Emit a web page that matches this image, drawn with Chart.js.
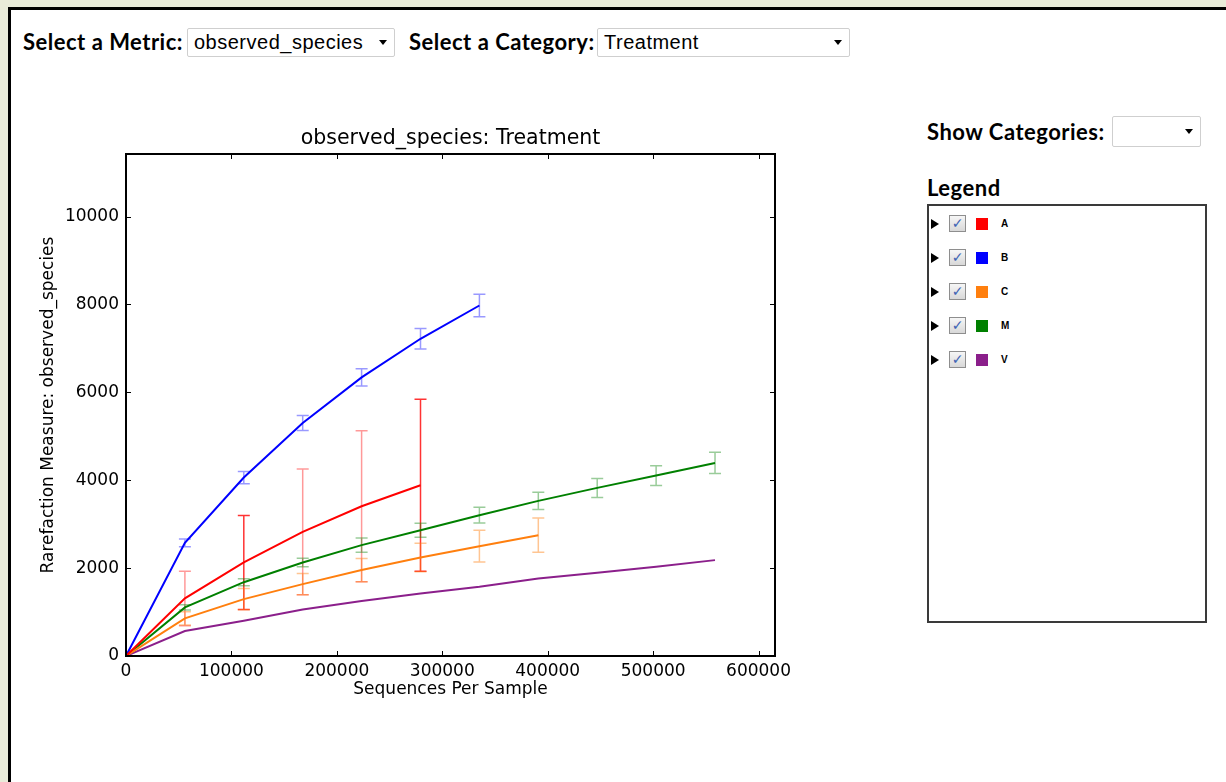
<!DOCTYPE html>
<html>
<head>
<meta charset="utf-8">
<script src="https://cdn.jsdelivr.net/npm/chart.js@4.4.1/dist/chart.umd.min.js"></script>
<style>
  html, body { margin: 0; padding: 0; }
  body { width: 1226px; height: 782px; background: #e9ebd9; position: relative; overflow: hidden; }
  #panel { position: absolute; left: 8px; top: 7px; width: 1300px; height: 900px; border-left: 3px solid #000; border-top: 3px solid #000; background: #fff; }
  .lbl { position: absolute; font-family: Lato, "Open Sans", sans-serif; font-weight: 700; color: #000; white-space: nowrap; letter-spacing: 0.5px; }
  .sel { position: absolute; box-sizing: border-box; border: 1px solid #cfcfcf; border-radius: 2px; background: #fff;
         font-family: "Liberation Sans", Arial, sans-serif; color: #000; white-space: nowrap; padding-left: 6px; }
  .arrow { position: absolute; width: 0; height: 0; border-left: 4px solid transparent; border-right: 4px solid transparent; border-top: 5px solid #000; }
  #legendBox { position: absolute; left: 927px; top: 204px; width: 280px; height: 419px; box-sizing: border-box; border: 2px solid #3a3a3a; background: #fff; }
  .row { position: absolute; left: 0; height: 20px; }
  .tri { position: absolute; left: 2px; top: 5px; width: 0; height: 0; border-top: 5px solid transparent; border-bottom: 5px solid transparent; border-left: 8px solid #000; }
  .cb { position: absolute; left: 20px; top: 1px; width: 17px; height: 17px; box-sizing: border-box; border: 1px solid #8e8e8e;
        background: linear-gradient(#f6f6f6, #d8d8d8); font-family: "DejaVu Sans", sans-serif; font-weight: 700; font-size: 14px; line-height: 15px; text-align: center; color: #3f63b4; }
  .sw { position: absolute; left: 47px; top: 4px; width: 12px; height: 12px; }
  .nm { position: absolute; left: 72px; top: 4px; font-family: "Liberation Sans", Arial, sans-serif; font-weight: 700; font-size: 10px; line-height: 12px; }
  #chartCanvas { position: absolute; left: 20px; top: 110px; }
</style>
</head>
<body>
<div id="panel"></div>

<div class="lbl" style="left:23px; top:29px; font-size:22px; line-height:26px;">Select a Metric:</div>
<div class="sel" style="left:187px; top:28px; width:208px; height:29px; font-size:20px; line-height:27px; letter-spacing:0.5px;">observed_species</div>
<div class="arrow" style="left:379px; top:40px;"></div>

<div class="lbl" style="left:409px; top:29px; font-size:22px; line-height:26px;">Select a Category:</div>
<div class="sel" style="left:597px; top:28px; width:253px; height:29px; font-size:20px; line-height:27px; letter-spacing:0.5px;">Treatment</div>
<div class="arrow" style="left:834px; top:40px;"></div>

<div class="lbl" style="left:927px; top:119px; font-size:22px; line-height:26px;">Show Categories:</div>
<div class="sel" style="left:1112px; top:116px; width:89px; height:31px;"></div>
<div class="arrow" style="left:1185px; top:129px;"></div>

<div class="lbl" style="left:927px; top:175px; font-size:22px; line-height:26px;">Legend</div>
<div id="legendBox"></div>

<canvas id="chartCanvas" width="780" height="600"></canvas>

<script>
// ---- data ----
const chartTitle = 'observed_species: Treatment';
const depths = [0, 55870, 111740, 167610, 223480, 279350, 335220, 391090, 446960, 502830, 558700];
const categories = ['A', 'B', 'C', 'M', 'V'];
const colors = ['#ff0000', '#0000ff', '#ff7f0e', '#008000', '#8b1f8b'];
const errColors = ['rgba(255,0,0,0.4)', 'rgba(0,0,255,0.4)', 'rgba(255,127,14,0.45)', 'rgba(0,128,0,0.4)', 'rgba(139,31,139,0.4)'];
const errStrongColors = ['rgba(255,0,0,0.8)', null, null, null, null];

const seriesA = [0, 1311, 2129, 2826, 3409, 3886];
const seriesB = [0, 2575, 4061, 5303, 6340, 7220, 7977];
const seriesC = [0, 856, 1295, 1636, 1955, 2242, 2500, 2750];
const seriesM = [0, 1106, 1680, 2129, 2523, 2864, 3205, 3530, 3826, 4106, 4394];
const seriesV = [0, 568, 803, 1060, 1250, 1424, 1576, 1765, 1894, 2030, 2182];

const errA = [0, 620, 1070, 1430, 1720, 1960];
const errB = [0, 90, 140, 170, 195, 235, 255];
const errC = [0, 150, 240, 240, 265, 322, 360, 390];
const errM = [0, 60, 80, 95, 160, 160, 178, 197, 216, 223, 242];
const errV = null;
// error bars that look darker (overlapping) in the reference
const strongA = [false, false, true, false, false, true];

const xTicks = [0, 100000, 200000, 300000, 400000, 500000, 600000];
const yTicks = [0, 2000, 4000, 6000, 8000, 10000];
const xMax = 615600, yMax = 11425;

const allSeries = [seriesA, seriesB, seriesC, seriesM, seriesV];
const allErr = [errA, errB, errC, errM, errV];
const allStrong = [strongA, null, null, null, null];

// ---- HTML legend ----
const box = document.getElementById('legendBox');
categories.forEach((c, i) => {
  const r = document.createElement('div');
  r.className = 'row';
  r.style.top = (8 + i * 34) + 'px';
  r.innerHTML = '<div class="tri"></div><div class="cb">\u2713</div><div class="sw" style="background:' + colors[i] + '"></div><div class="nm">' + c + '</div>';
  box.appendChild(r);
});

// ---- plugins ----
const errorBars = {
  id: 'errorBars',
  beforeDatasetsDraw(chart) {
    const { ctx } = chart, x = chart.scales.x, y = chart.scales.y;
    chart.data.datasets.forEach((ds) => {
      if (!ds.errors) return;
      ctx.save();
      ctx.lineWidth = 1.5;
      ds.data.forEach((pt, j) => {
        const e = ds.errors[j];
        if (!e) return;
        ctx.strokeStyle = (ds.errorStrong && ds.errorStrong[j]) ? ds.errorStrongColor : ds.errorColor;
        const px = x.getPixelForValue(pt.x);
        const top = y.getPixelForValue(pt.y + e);
        const bot = y.getPixelForValue(pt.y - e);
        ctx.beginPath();
        ctx.moveTo(px, top); ctx.lineTo(px, bot);
        ctx.moveTo(px - 6, top); ctx.lineTo(px + 6, top);
        ctx.moveTo(px - 6, bot); ctx.lineTo(px + 6, bot);
        ctx.stroke();
      });
      ctx.restore();
    });
  }
};

const frame = {
  id: 'frame',
  afterDatasetsDraw(chart) {
    const { ctx, chartArea: a } = chart, x = chart.scales.x, y = chart.scales.y;
    ctx.save();
    ctx.strokeStyle = '#000';
    ctx.lineWidth = 1;
    ctx.beginPath();
    x.ticks.forEach(t => {
      const px = Math.round(x.getPixelForValue(t.value)) + 0.5;
      ctx.moveTo(px, a.bottom); ctx.lineTo(px, a.bottom - 5);
      ctx.moveTo(px, a.top); ctx.lineTo(px, a.top + 5);
    });
    y.ticks.forEach(t => {
      const py = Math.round(y.getPixelForValue(t.value)) + 0.5;
      ctx.moveTo(a.left, py); ctx.lineTo(a.left + 5, py);
      ctx.moveTo(a.right, py); ctx.lineTo(a.right - 5, py);
    });
    ctx.stroke();
    ctx.lineWidth = 2;
    ctx.strokeRect(a.left, a.top, a.right - a.left, a.bottom - a.top);
    // title centred over the plot area
    ctx.fillStyle = '#000';
    ctx.font = '20.5px "DejaVu Sans", sans-serif';
    ctx.textAlign = 'center';
    ctx.textBaseline = 'middle';
    ctx.fillText(chartTitle, (a.left + a.right) / 2, a.top - 15);
    ctx.restore();
  }
};

const datasets = categories.map((c, i) => ({
  label: c,
  data: allSeries[i].map((v, j) => ({ x: depths[j], y: v })),
  borderColor: colors[i],
  backgroundColor: colors[i],
  borderWidth: 2,
  pointRadius: 0,
  tension: 0,
  fill: false,
  errors: allErr[i],
  errorColor: errColors[i],
  errorStrong: allStrong[i],
  errorStrongColor: errStrongColors[i]
}));

const tickFont = { family: '"DejaVu Sans", sans-serif', size: 17 };

new Chart(document.getElementById('chartCanvas'), {
  type: 'line',
  data: { datasets },
  plugins: [errorBars, frame],
  options: {
    responsive: false,
    animation: false,
    layout: { padding: { left: 0, right: 25, top: 44, bottom: 0 } },
    plugins: {
      legend: { display: false },
      tooltip: { enabled: false },
      title: { display: false }
    },
    scales: {
      x: {
        type: 'linear',
        min: 0, max: xMax,
        grid: { display: false, drawTicks: false },
        border: { display: false },
        afterBuildTicks(s) { s.ticks = xTicks.map(v => ({ value: v })); },
        ticks: { color: '#000', font: tickFont, padding: 5, maxRotation: 0, autoSkip: false,
                 callback: v => String(v) },
        title: { display: true, text: 'Sequences Per Sample', color: '#000', font: { family: '"DejaVu Sans", sans-serif', size: 17, lineHeight: 1.2 },
                 padding: { top: 0, bottom: 10 } },
        afterFit(s) { s.height = 54; }
      },
      y: {
        type: 'linear',
        min: 0, max: yMax,
        grid: { display: false, drawTicks: false },
        border: { display: false },
        afterBuildTicks(s) { s.ticks = yTicks.map(v => ({ value: v })); },
        ticks: { color: '#000', font: tickFont, padding: 7, autoSkip: false,
                 callback: v => String(v) },
        title: { display: true, text: 'Rarefaction Measure: observed_species', color: '#000', font: { family: '"DejaVu Sans", sans-serif', size: 17, lineHeight: 1.2 },
                 padding: { top: 18, bottom: 0 } },
        afterFit(s) { s.width = 106; }
      }
    }
  }
});
</script>
</body>
</html>
